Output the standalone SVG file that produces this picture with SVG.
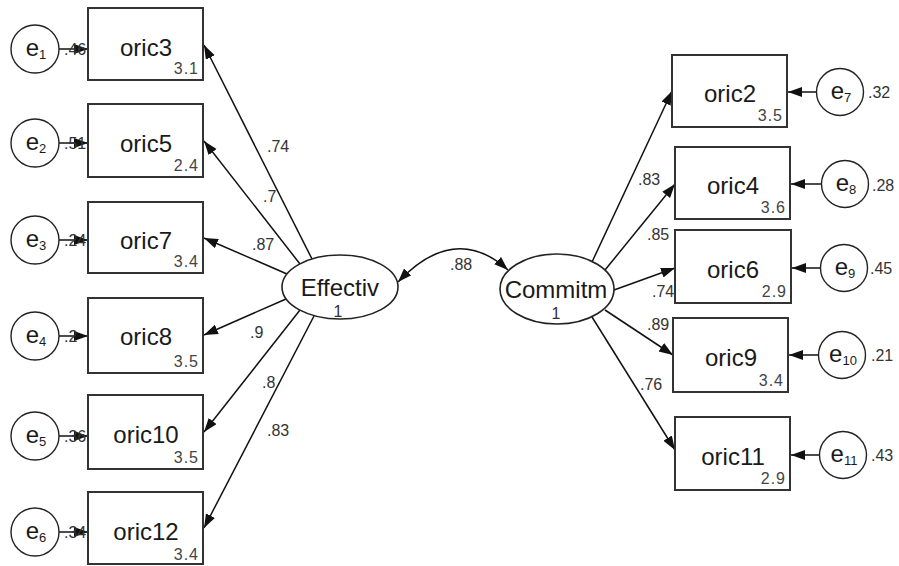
<svg xmlns="http://www.w3.org/2000/svg" width="899" height="566" viewBox="0 0 899 566">
<defs>
<marker id="ah" markerUnits="userSpaceOnUse" markerWidth="16" markerHeight="12" refX="14" refY="5" orient="auto-start-reverse">
<path d="M0,0 L14,5 L0,10 z" fill="#111"/>
</marker>
<style>
.box{fill:#fff;stroke:#333;stroke-width:2}
.lat{fill:#fff;stroke:#222;stroke-width:1.6}
.err{fill:#fff;stroke:#222;stroke-width:1.4}
.t{font-family:"Liberation Sans",Arial,sans-serif;font-size:24px;fill:#1a1a1a;text-anchor:middle}
.n{font-family:"Liberation Sans",Arial,sans-serif;font-size:16px;fill:#444;letter-spacing:1px;text-anchor:end}
.lb{font-family:"Liberation Sans",Arial,sans-serif;font-size:16px;fill:#333}
.e{font-family:"Liberation Sans",Arial,sans-serif;font-size:24px;fill:#1a1a1a;text-anchor:middle}
.c{stroke:#111;stroke-width:1.5;fill:none;marker-end:url(#ah)}
</style>
</defs>
<rect width="899" height="566" fill="#fff"/>
<g id="connectors">
<line class="c" x1="312" y1="259" x2="204" y2="45"/>
<line class="c" x1="300" y1="264" x2="204" y2="141"/>
<line class="c" x1="287" y1="274" x2="204" y2="238"/>
<line class="c" x1="286" y1="299" x2="204" y2="335"/>
<line class="c" x1="300" y1="310" x2="204" y2="432"/>
<line class="c" x1="314" y1="316" x2="204" y2="528"/>
<line class="c" x1="592" y1="262" x2="672" y2="91"/>
<line class="c" x1="605" y1="270" x2="675" y2="184"/>
<line class="c" x1="614" y1="290" x2="675" y2="268"/>
<line class="c" x1="605" y1="310" x2="673" y2="355"/>
<line class="c" x1="592" y1="317" x2="675" y2="450"/>
<path class="c" d="M 398 282 Q 455 222 508 270" style="marker-start:url(#ah)"/>
<line class="c" x1="59" y1="49" x2="88" y2="49"/>
<line class="c" x1="59" y1="143" x2="88" y2="143"/>
<line class="c" x1="59" y1="240" x2="88" y2="240"/>
<line class="c" x1="59" y1="336" x2="88" y2="336"/>
<line class="c" x1="59" y1="436" x2="88" y2="436"/>
<line class="c" x1="59" y1="532" x2="88" y2="532"/>
<line class="c" x1="816" y1="92" x2="788" y2="92"/>
<line class="c" x1="821" y1="184" x2="791" y2="184"/>
<line class="c" x1="820" y1="268" x2="792" y2="268"/>
<line class="c" x1="818" y1="355" x2="789" y2="355"/>
<line class="c" x1="819" y1="455" x2="791" y2="455"/>
<text class="lb" x="267" y="152">.74</text>
<text class="lb" x="263" y="202">.7</text>
<text class="lb" x="252" y="250">.87</text>
<text class="lb" x="250" y="338">.9</text>
<text class="lb" x="262" y="388">.8</text>
<text class="lb" x="267" y="436">.83</text>
<text class="lb" x="638" y="185">.83</text>
<text class="lb" x="647" y="240">.85</text>
<text class="lb" x="652" y="297">.74</text>
<text class="lb" x="647" y="330">.89</text>
<text class="lb" x="640" y="390">.76</text>
<text class="lb" x="450" y="270">.88</text>
</g>
<g id="Effectiv">
<ellipse class="lat" cx="340" cy="287" rx="58" ry="32"/>
<text class="t" x="340" y="296">Effectiv</text>
<text class="lb" x="338" y="317" text-anchor="middle">1</text>
</g>
<g id="Commitm">
<ellipse class="lat" cx="557" cy="289" rx="57" ry="35"/>
<text class="t" x="556" y="298">Commitm</text>
<text class="lb" x="556" y="319" text-anchor="middle">1</text>
</g>
<g id="oric3"><rect class="box" x="88" y="8" width="115" height="72"/><text class="t" x="146" y="56">oric3</text><text class="n" x="199" y="74">3.1</text></g>
<g id="oric5"><rect class="box" x="88" y="104" width="115" height="73"/><text class="t" x="146" y="152">oric5</text><text class="n" x="199" y="171">2.4</text></g>
<g id="oric7"><rect class="box" x="88" y="202" width="115" height="71"/><text class="t" x="146" y="249">oric7</text><text class="n" x="199" y="267">3.4</text></g>
<g id="oric8"><rect class="box" x="88" y="298" width="115" height="75"/><text class="t" x="146" y="345">oric8</text><text class="n" x="199" y="367">3.5</text></g>
<g id="oric10"><rect class="box" x="88" y="395" width="115" height="74"/><text class="t" x="146" y="443">oric10</text><text class="n" x="199" y="463">3.5</text></g>
<g id="oric12"><rect class="box" x="88" y="492" width="115" height="72"/><text class="t" x="146" y="540">oric12</text><text class="n" x="199" y="560">3.4</text></g>
<g id="oric2"><rect class="box" x="672" y="55" width="115" height="72"/><text class="t" x="730" y="102">oric2</text><text class="n" x="783" y="121">3.5</text></g>
<g id="oric4"><rect class="box" x="675" y="147" width="115" height="72"/><text class="t" x="733" y="194">oric4</text><text class="n" x="786" y="213">3.6</text></g>
<g id="oric6"><rect class="box" x="675" y="230" width="116" height="73"/><text class="t" x="733" y="278">oric6</text><text class="n" x="787" y="297">2.9</text></g>
<g id="oric9"><rect class="box" x="673" y="318" width="115" height="74"/><text class="t" x="731" y="366">oric9</text><text class="n" x="784" y="386">3.4</text></g>
<g id="oric11"><rect class="box" x="675" y="417" width="115" height="73"/><text class="t" x="733" y="465">oric11</text><text class="n" x="786" y="484">2.9</text></g>
<g id="e1"><circle class="err" cx="35" cy="49" r="24"/><text class="e" x="36" y="56">e<tspan font-size="13" dy="3">1</tspan></text><text class="lb" x="64" y="55">.46</text></g>
<g id="e2"><circle class="err" cx="35" cy="143" r="24"/><text class="e" x="36" y="150">e<tspan font-size="13" dy="3">2</tspan></text><text class="lb" x="64" y="149">.51</text></g>
<g id="e3"><circle class="err" cx="35" cy="240" r="24"/><text class="e" x="36" y="247">e<tspan font-size="13" dy="3">3</tspan></text><text class="lb" x="64" y="246">.24</text></g>
<g id="e4"><circle class="err" cx="35" cy="336" r="24"/><text class="e" x="36" y="343">e<tspan font-size="13" dy="3">4</tspan></text><text class="lb" x="64" y="342">.2</text></g>
<g id="e5"><circle class="err" cx="35" cy="436" r="24"/><text class="e" x="36" y="443">e<tspan font-size="13" dy="3">5</tspan></text><text class="lb" x="64" y="442">.36</text></g>
<g id="e6"><circle class="err" cx="35" cy="532" r="24"/><text class="e" x="36" y="539">e<tspan font-size="13" dy="3">6</tspan></text><text class="lb" x="64" y="538">.34</text></g>
<g id="e7"><circle class="err" cx="840" cy="92" r="23.5"/><text class="e" x="841" y="99">e<tspan font-size="13" dy="3">7</tspan></text><text class="lb" x="868" y="98">.32</text></g>
<g id="e8"><circle class="err" cx="845" cy="184" r="23.5"/><text class="e" x="846" y="191">e<tspan font-size="13" dy="3">8</tspan></text><text class="lb" x="872" y="191">.28</text></g>
<g id="e9"><circle class="err" cx="844" cy="268" r="23.5"/><text class="e" x="845" y="275">e<tspan font-size="13" dy="3">9</tspan></text><text class="lb" x="870" y="274">.45</text></g>
<g id="e10"><circle class="err" cx="842" cy="355" r="23.5"/><text class="e" x="843" y="362">e<tspan font-size="13" dy="3">10</tspan></text><text class="lb" x="871" y="361">.21</text></g>
<g id="e11"><circle class="err" cx="843" cy="455" r="23.5"/><text class="e" x="844" y="462">e<tspan font-size="13" dy="3">11</tspan></text><text class="lb" x="871" y="461">.43</text></g>
</svg>
